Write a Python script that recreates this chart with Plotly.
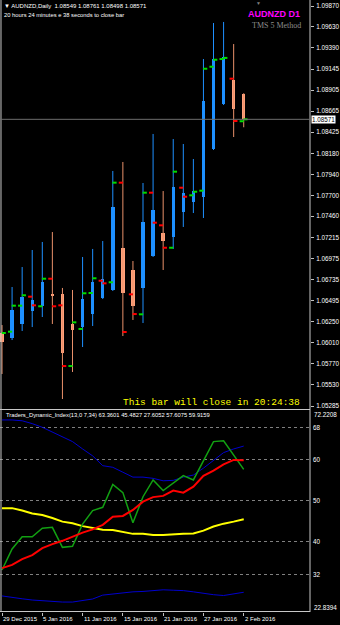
import plotly.graph_objects as go

# ---------------- data ----------------
dates = ["29 Dec", "30 Dec", "31 Dec", "4 Jan", "5 Jan", "6 Jan", "7 Jan", "8 Jan",
         "11 Jan", "12 Jan", "13 Jan", "14 Jan", "15 Jan", "18 Jan", "19 Jan", "20 Jan",
         "21 Jan", "22 Jan", "25 Jan", "26 Jan", "27 Jan", "28 Jan", "29 Jan", "1 Feb", "2 Feb"]

candle_open = [1.06122, 1.06064, 1.06225, 1.06374, 1.06431, 1.06569, 1.06569, 1.06225, 1.06190, 1.06340,
               1.06523, 1.06615, 1.07096, 1.06844, 1.06638, 1.07004, 1.07268, 1.07222, 1.07509, 1.07623,
               1.07681, 1.08231, 1.08747, 1.09022, 1.08861]
candle_high = [1.06213, 1.06649, 1.06878, 1.07073, 1.07165, 1.07279, 1.06638, 1.06615, 1.06993, 1.07085,
               1.07176, 1.07979, 1.08082, 1.06947, 1.07841, 1.08403, 1.07749, 1.08345, 1.08288, 1.08116,
               1.09262, 1.09675, 1.09687, 1.09434, 1.08870]
candle_low = [1.05652, 1.06041, 1.06145, 1.06190, 1.06305, 1.06225, 1.05365, 1.05675, 1.05961, 1.06202,
              1.06511, 1.06603, 1.06087, 1.06271, 1.06236, 1.06993, 1.06844, 1.07085, 1.07337, 1.07497,
              1.07440, 1.08219, 1.08735, 1.08368, 1.08480]
candle_close = [1.06019, 1.06385, 1.06534, 1.06500, 1.06706, 1.06546, 1.05892, 1.06156, 1.06511, 1.06706,
                1.06741, 1.07566, 1.06580, 1.06431, 1.07394, 1.07532, 1.07176, 1.07795, 1.07726, 1.07749,
                1.08781, 1.09262, 1.09285, 1.08689, 1.08575]

tick_open = [None, 1.06137, 1.06435, 1.06538, 1.06428, 1.06744, 1.06439, 1.05743, 1.06168, 1.06580,
             1.06721, 1.06703, 1.07845, 1.06565, 1.06336, 1.07730, 1.07356, 1.07099, 1.07787, 1.07700,
             1.07753, 1.09174, 1.09262, 1.09037, 1.08549]
tick_close = [1.06122, 1.06435, 1.06554, 1.06439, 1.06744, 1.06428, 1.05743, 1.06244, 1.06577, 1.06749,
              1.06691, 1.07845, 1.06133, 1.06339, 1.07730, 1.07386, 1.07099, 1.07971, 1.07684, 1.07741,
              1.09151, 1.09254, 1.09275, 1.08552, 1.08571]

tdi_upper = [69.8, 69.8, 69.6, 68.9, 68.0, 66.8, 65.7, 64.5, 62.7, 61.0, 58.6, 58.2, 57.0, 55.8, 55.8,
             55.5, 54.9, 55.0, 55.8, 56.3, 58.0, 60.0, 61.8, 62.7, 63.4]
tdi_lower = [26.7, 26.3, 26.0, 25.7, 25.5, 25.4, 25.2, 25.2, 25.6, 25.95, 26.9, 27.2, 27.4, 27.7, 27.8,
             28.0, 28.2, 28.1, 28.0, 27.7, 27.3, 27.0, 26.8, 27.2, 27.6]
tdi_mid = [48.2, 48.2, 47.6, 46.9, 46.5, 45.8, 44.9, 44.5, 43.8, 43.4, 42.9, 42.85, 42.4, 41.9, 41.9,
           41.6, 41.6, 41.8, 41.9, 42.0, 42.7, 43.7, 44.4, 44.9, 45.5]
tdi_rsi = [33.05, 38.2, 41.2, 41.2, 43.3, 43.5, 38.6, 38.85, 44.3, 47.6, 48.4, 54.0, 52.0, 44.6, 51.0,
           55.1, 52.5, 54.3, 56.15, 55.1, 59.8, 64.5, 64.7, 61.2, 57.7]
tdi_signal = [33.5, 34.3, 35.7, 36.7, 38.4, 39.4, 40.2, 41.2, 42.2, 43.0, 44.1, 46.1, 46.3, 47.75, 49.8,
              50.9, 51.2, 52.5, 52.0, 53.45, 56.1, 57.4, 58.9, 60.0, 59.9]

price_ticks = [1.09870, 1.09630, 1.09390, 1.09145, 1.08905, 1.08665, 1.08425, 1.08180, 1.07940, 1.07700,
               1.07460, 1.07215, 1.06975, 1.06735, 1.06495, 1.06250, 1.06010, 1.05770, 1.05530, 1.05285]
tdi_ticks = [68, 60, 50, 40, 32]
tdi_min_max = [22.8394, 72.2208]
xlabel_pos = [0, 4, 8, 12, 16, 20, 24]
xlabels = ["29 Dec 2015", "5 Jan 2016", "11 Jan 2016", "15 Jan 2016", "21 Jan 2016", "27 Jan 2016", "2 Feb 2016"]
current_price = 1.08571

# ---------------- figure ----------------
W, H = 340, 625
ML, MR, MT, MB = 0, 27, 0, 13
PW, PH = W - ML - MR, H - MT - MB

def px(xp):
    return xp / PW

def py(yp):
    return 1 - yp / PH

FONT = "Liberation Sans, Arial, sans-serif"
BULL, BEAR = "#1E90FF", "#FFA07A"
BULL_W, BEAR_W = "#1E90FF", "#E9906A"

idx = list(range(len(dates)))
fig = go.Figure()

# wicks
for bull in (True, False):
    wx, wy = [], []
    for i in idx:
        if (candle_close[i] >= candle_open[i]) == bull:
            wx += [i, i, None]
            wy += [candle_low[i], candle_high[i], None]
    fig.add_trace(go.Scatter(x=wx, y=wy, mode="lines", line=dict(color=BULL_W if bull else BEAR_W, width=1),
                             hoverinfo="skip", showlegend=False, xaxis="x", yaxis="y"))

# bodies
body_base = [min(o, c) for o, c in zip(candle_open, candle_close)]
body_h = [max(abs(c - o), 0.00002) for o, c in zip(candle_open, candle_close)]
body_col = [BULL if c >= o else BEAR for o, c in zip(candle_open, candle_close)]
fig.add_trace(go.Bar(x=idx, y=body_h, base=body_base, width=0.34, marker=dict(color=body_col, line=dict(width=0)),
                     showlegend=False, xaxis="x", yaxis="y"))

# open / close ticks
tick_col = []
for o, c in zip(tick_open, tick_close):
    tick_col.append("#00DD00" if (o is None or c >= o) else "#FF0000")
fig.add_trace(go.Scatter(x=[i - 0.2 for i in idx], y=tick_open, mode="markers",
                         marker=dict(symbol="line-ew", size=3, line=dict(color=tick_col, width=2)),
                         showlegend=False, xaxis="x", yaxis="y"))
fig.add_trace(go.Scatter(x=[i + 0.17 for i in idx], y=tick_close, mode="markers",
                         marker=dict(symbol="line-ew", size=3, line=dict(color=tick_col, width=2)),
                         showlegend=False, xaxis="x", yaxis="y"))

# TDI
for ser, col, w in [(tdi_upper, "#0000CD", 1), (tdi_lower, "#0000CD", 1), (tdi_mid, "#FFFF00", 2),
                    (tdi_rsi, "#12A012", 1.5), (tdi_signal, "#FF0000", 2)]:
    fig.add_trace(go.Scatter(x=idx, y=ser, mode="lines", line=dict(color=col, width=w),
                             showlegend=False, xaxis="x2", yaxis="y2"))

main_top_px, main_bot_px = 0, 409
ind_top_px = 410
p_per_px = 8724.0
main_range = [1.09870 - (main_bot_px - 6) / p_per_px, 1.09870 + 6 / p_per_px]
tdi_px = 4.083
ind_range = [68 - (PH - 427.3) / tdi_px, 68 + (427.3 - ind_top_px) / tdi_px]
x_range = [-0.2, (PW - 2) / 10.17]

fig.update_layout(
    width=W, height=H, margin=dict(l=ML, r=MR, t=MT, b=MB),
    paper_bgcolor="#000000", plot_bgcolor="#000000",
    bargap=0, showlegend=False,
    font=dict(family=FONT, size=6, color="#FFFFFF"),
    xaxis=dict(domain=[0, 1], range=x_range, showgrid=False, zeroline=False, showticklabels=False,
               ticks="", anchor="y", fixedrange=True),
    yaxis=dict(domain=[py(main_bot_px), 1], range=main_range, side="right", showgrid=False, zeroline=False,
               tickvals=price_ticks, ticktext=[f"{v:.5f}" for v in price_ticks], ticks="outside", ticklen=3,
               tickcolor="#C0C0C0", tickfont=dict(size=6.3, color="#FFFFFF"), ticklabelstandoff=1,
               anchor="x"),
    xaxis2=dict(domain=[0, 1], matches="x", range=x_range, showgrid=False, zeroline=False, showticklabels=False,
                tickvals=xlabel_pos, ticks="outside", ticklen=3, tickcolor="#C0C0C0", anchor="y2"),
    yaxis2=dict(domain=[0, py(ind_top_px)], range=ind_range, side="right", zeroline=False,
                tickvals=tdi_ticks, ticktext=[str(v) for v in tdi_ticks], ticks="",
                showgrid=True, gridcolor="#808080", griddash="dot", gridwidth=1,
                tickfont=dict(size=6.3, color="#FFFFFF"), ticklabelstandoff=2, anchor="x2"),
)

frame = "#C8C8C8"
shapes = [
    dict(type="line", xref="paper", yref="paper", x0=px(1), x1=px(1), y0=0, y1=1, line=dict(color=frame, width=1)),
    dict(type="line", xref="paper", yref="paper", x0=1, x1=1, y0=0, y1=1, line=dict(color=frame, width=1)),
    dict(type="line", xref="paper", yref="paper", x0=0, x1=1, y0=py(409.5), y1=py(409.5), line=dict(color=frame, width=1)),
    dict(type="line", xref="paper", yref="paper", x0=0, x1=1, y0=py(611.5), y1=py(611.5), line=dict(color=frame, width=1)),
    dict(type="line", xref="paper", yref="y", x0=0, x1=1, y0=current_price, y1=current_price,
         line=dict(color="#6E6E6E", width=1)),
]
fig.update_layout(shapes=shapes)

ann = []
ann.append(dict(xref="paper", yref="paper", x=px(2), y=py(6), xanchor="left", yanchor="middle", showarrow=False,
                text="▼ AUDNZD,Daily  1.08549 1.08761 1.08498 1.08571", font=dict(size=6, color="#FFFFFF")))
ann.append(dict(xref="paper", yref="paper", x=px(2), y=py(15), xanchor="left", yanchor="middle", showarrow=False,
                text="20 hours 24 minutes e 38 seconds to close bar", font=dict(size=5.8, color="#FFFFFF")))
ann.append(dict(xref="paper", yref="paper", x=px(261), y=py(3), xanchor="center", yanchor="middle", showarrow=False,
                text="▼", font=dict(size=5, color="#808080")))
ann.append(dict(xref="paper", yref="paper", x=px(305), y=py(14), xanchor="right", yanchor="middle", showarrow=False,
                text="<b>AUDNZD D1</b>", font=dict(family="Liberation Sans, Arial", size=9, color="#FF00FF")))
ann.append(dict(xref="paper", yref="paper", x=px(306), y=py(26), xanchor="right", yanchor="middle", showarrow=False,
                text="TMS 5 Method", font=dict(family="Liberation Serif, Times New Roman, serif", size=8, color="#8C8C8C")))
ann.append(dict(xref="paper", yref="paper", x=px(305), y=py(402), xanchor="right", yanchor="middle", showarrow=False,
                text="This bar will close in 20:24:38",
                font=dict(family="Liberation Mono, Courier New, monospace", size=9.5, color="#FFFF00")))
ann.append(dict(xref="paper", yref="paper", x=px(4), y=py(415), xanchor="left", yanchor="middle", showarrow=False,
                text="Traders_Dynamic_Index(13,0 7,34) 63.3601 45.4827 27.6052 57.6075 59.9159",
                font=dict(size=5.8, color="#FFFFFF")))
# current price box
ann.append(dict(xref="paper", yref="y", x=1, y=current_price, xanchor="left", yanchor="middle", showarrow=False,
                xshift=1, text=f"{current_price:.5f}", bgcolor="#FFFFFF", borderpad=0,
                font=dict(size=6.3, color="#000000")))
# indicator min/max labels
ann.append(dict(xref="paper", yref="paper", x=1, y=py(414), xanchor="left", yanchor="middle", showarrow=False,
                xshift=2, text=f"{tdi_min_max[1]:.4f}", font=dict(size=6.3, color="#FFFFFF")))
ann.append(dict(xref="paper", yref="paper", x=1, y=py(607.5), xanchor="left", yanchor="middle", showarrow=False,
                xshift=2, text=f"{tdi_min_max[0]:.4f}", font=dict(size=6.3, color="#FFFFFF")))
# date labels
for p, t in zip(xlabel_pos, xlabels):
    ann.append(dict(xref="x2", yref="paper", x=p, y=py(618.5), xanchor="left", yanchor="middle", showarrow=False,
                    xshift=-1, text=t, font=dict(size=6, color="#FFFFFF")))
fig.update_layout(annotations=ann)

fig.write_html("out.html")
